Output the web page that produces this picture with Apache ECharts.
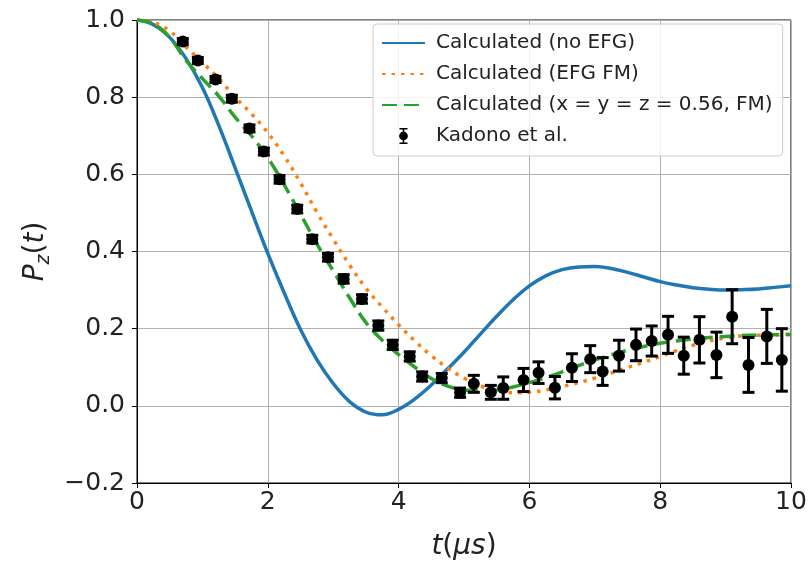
<!DOCTYPE html>
<html>
<head>
<meta charset="utf-8">
<script src="https://cdn.jsdelivr.net/npm/echarts@6/dist/echarts.min.js"></script>
<style>html,body{margin:0;padding:0;background:#fff}#c{width:811px;height:568px}</style>
</head>
<body>
<div id="c"></div>
<script>
// ---- data ----
const tLine = [0,0.25,0.5,0.75,1,1.25,1.5,1.75,2,2.25,2.5,2.75,3,3.25,3.5,3.75,4,4.25,4.5,4.75,5,5.25,5.5,5.75,6,6.25,6.5,6.75,7,7.25,7.5,7.75,8,8.25,8.5,8.75,9,9.25,9.5,9.75,10];
const noEFG = [1.0,0.988,0.955,0.900,0.825,0.727,0.617,0.505,0.395,0.293,0.198,0.120,0.058,0.011,-0.016,-0.023,-0.009,0.018,0.054,0.096,0.139,0.186,0.232,0.275,0.311,0.337,0.353,0.360,0.361,0.356,0.346,0.334,0.322,0.313,0.306,0.302,0.300,0.301,0.303,0.307,0.311];
const efgFM = [1.0,0.993,0.972,0.93,0.89,0.848,0.80,0.757,0.708,0.648,0.578,0.502,0.432,0.365,0.305,0.256,0.21,0.168,0.13,0.098,0.072,0.052,0.04,0.034,0.035,0.041,0.05,0.06,0.072,0.085,0.099,0.113,0.128,0.143,0.157,0.168,0.176,0.181,0.183,0.184,0.185];
const xyzFM = [1.0,0.99,0.955,0.895,0.848,0.803,0.748,0.70,0.643,0.573,0.497,0.42,0.35,0.28,0.216,0.17,0.133,0.10,0.071,0.051,0.041,0.039,0.041,0.049,0.06,0.073,0.088,0.104,0.119,0.132,0.144,0.154,0.162,0.168,0.173,0.177,0.18,0.182,0.183,0.184,0.185];
const tData = [0.70,0.93,1.20,1.45,1.72,1.94,2.18,2.45,2.68,2.92,3.16,3.44,3.69,3.91,4.17,4.36,4.66,4.94,5.15,5.41,5.60,5.91,6.14,6.39,6.65,6.93,7.12,7.37,7.63,7.87,8.12,8.36,8.60,8.86,9.10,9.35,9.63,9.86];
const pData = [0.944,0.895,0.846,0.796,0.719,0.659,0.587,0.510,0.432,0.385,0.329,0.277,0.208,0.158,0.128,0.076,0.072,0.034,0.057,0.035,0.046,0.067,0.086,0.047,0.099,0.121,0.089,0.130,0.158,0.168,0.184,0.130,0.171,0.132,0.231,0.106,0.180,0.119];
const errData = [0.008,0.008,0.008,0.009,0.009,0.009,0.010,0.010,0.010,0.010,0.011,0.011,0.012,0.012,0.012,0.012,0.012,0.012,0.022,0.018,0.029,0.030,0.028,0.029,0.036,0.035,0.036,0.040,0.041,0.039,0.048,0.048,0.060,0.059,0.070,0.071,0.070,0.081];
const xTicks = [0,2,4,6,8,10];
const yTicks = [-0.2,0,0.2,0.4,0.6,0.8,1.0];
const names = ['Calculated (no EFG)','Calculated (EFG FM)','Calculated (x = y = z = 0.56, FM)','Kadono et al.'];

const chart = echarts.init(document.getElementById('c'), null, {renderer:'canvas'});
const pair = (xs, ys) => xs.map((x,i)=>[x, ys[i]]);
const FONT = 'DejaVu Sans';
const option = {
  animation:false,
  backgroundColor:'#fff',
  grid:{left:137,right:20,top:20,bottom:85,show:true,borderColor:'#000',borderWidth:1,backgroundColor:'transparent'},
  legend:{
    orient:'vertical', left:373, top:24,
    padding:[9,10,10,8], itemGap:11, itemWidth:43, itemHeight:16,
    backgroundColor:'rgba(255,255,255,0.85)', borderColor:'#cccccc', borderWidth:1, borderRadius:4,
    textStyle:{fontFamily:FONT, fontSize:20, color:'#222', lineHeight:20, padding:[0,0,0,6]},
    data:[
      {name:names[0], itemStyle:{opacity:0}},
      {name:names[1], itemStyle:{opacity:0}},
      {name:names[2], itemStyle:{opacity:0}},
      {name:names[3], icon:'path://M3,0H13V2H3Z M3,18H13V20H3Z M7,0H9V20H7Z M8,4.5A5.5,5.5 0 1,1 8,15.5A5.5,5.5 0 1,1 8,4.5Z'}
    ]
  },
  xAxis:{
    type:'value', min:xTicks[0], max:xTicks[xTicks.length-1], interval:2,
    name:'{i|t}{n|(}{i|μs}{n|)}', nameLocation:'middle', nameGap:50,
    nameTextStyle:{rich:{i:{fontFamily:FONT,fontStyle:'italic',fontSize:28,color:'#222'},n:{fontFamily:FONT,fontSize:28,color:'#222'}}},
    axisLine:{show:true,onZero:false,lineStyle:{color:'#000',width:1}},
    axisTick:{show:true,inside:false,length:5,lineStyle:{color:'#000'}},
    axisLabel:{fontFamily:FONT,fontSize:25,color:'#222',margin:7},
    splitLine:{show:true,lineStyle:{color:'#b0b0b0',width:1}}
  },
  yAxis:{
    type:'value', min:yTicks[0], max:yTicks[yTicks.length-1], interval:0.2,
    name:'{i|P}{s|z}{n|(}{i|t}{n|)}', nameLocation:'middle', nameGap:80, nameRotate:90,
    nameTextStyle:{rich:{
      i:{fontFamily:FONT,fontStyle:'italic',fontSize:28,color:'#222',verticalAlign:'bottom'},
      n:{fontFamily:FONT,fontSize:28,color:'#222',verticalAlign:'bottom'},
      s:{fontFamily:FONT,fontStyle:'italic',fontSize:19,color:'#222',verticalAlign:'bottom',padding:[0,0,-4,0]}}},
    axisLine:{show:true,onZero:false,lineStyle:{color:'#000',width:1}},
    axisTick:{show:true,inside:false,length:5,lineStyle:{color:'#000'}},
    axisLabel:{fontFamily:FONT,fontSize:25,color:'#222',margin:12,
      formatter:v=>{const s=Math.abs(v)<1e-9?'0.0':v.toFixed(1);return s.replace('-','\u2212');}},
    splitLine:{show:true,lineStyle:{color:'#b0b0b0',width:1}}
  },
  series:[
    {name:names[0],type:'line',data:pair(tLine,noEFG),smooth:0.4,showSymbol:false,symbol:'none',
     lineStyle:{color:'#1f77b4',width:3.5},itemStyle:{color:'#1f77b4'},z:2},
    {name:names[1],type:'line',data:pair(tLine,efgFM),smooth:0.4,showSymbol:false,symbol:'none',
     lineStyle:{color:'#ff7f0e',width:3.5,type:[3.5,6]},itemStyle:{color:'#ff7f0e'},z:2},
    {name:names[2],type:'line',data:pair(tLine,xyzFM),smooth:0.4,showSymbol:false,symbol:'none',
     lineStyle:{color:'#2ca02c',width:3.5,type:[15,7]},itemStyle:{color:'#2ca02c'},z:2},
    {name:names[3],type:'custom',z:3,
     data:tData.map((t,i)=>[t,pData[i],errData[i]]),
     renderItem:(params,api)=>{
       const x=api.value(0),y=api.value(1),e=api.value(2);
       const a=api.coord([x,y+e]),b=api.coord([x,y-e]);const hw=6;
       const st={stroke:'#000',lineWidth:3};
       return {type:'group',children:[
         {type:'line',shape:{x1:a[0],y1:a[1],x2:b[0],y2:b[1]},style:st},
         {type:'line',shape:{x1:a[0]-hw,y1:a[1],x2:a[0]+hw,y2:a[1]},style:st},
         {type:'line',shape:{x1:b[0]-hw,y1:b[1],x2:b[0]+hw,y2:b[1]},style:st}
       ]};
     },
     itemStyle:{color:'#000'}},
    {name:names[3],type:'scatter',z:4,data:pair(tData,pData),symbol:'circle',symbolSize:12,
     itemStyle:{color:'#000',opacity:1}}
  ]
};
chart.setOption(option);
</script>
</body>
</html>
